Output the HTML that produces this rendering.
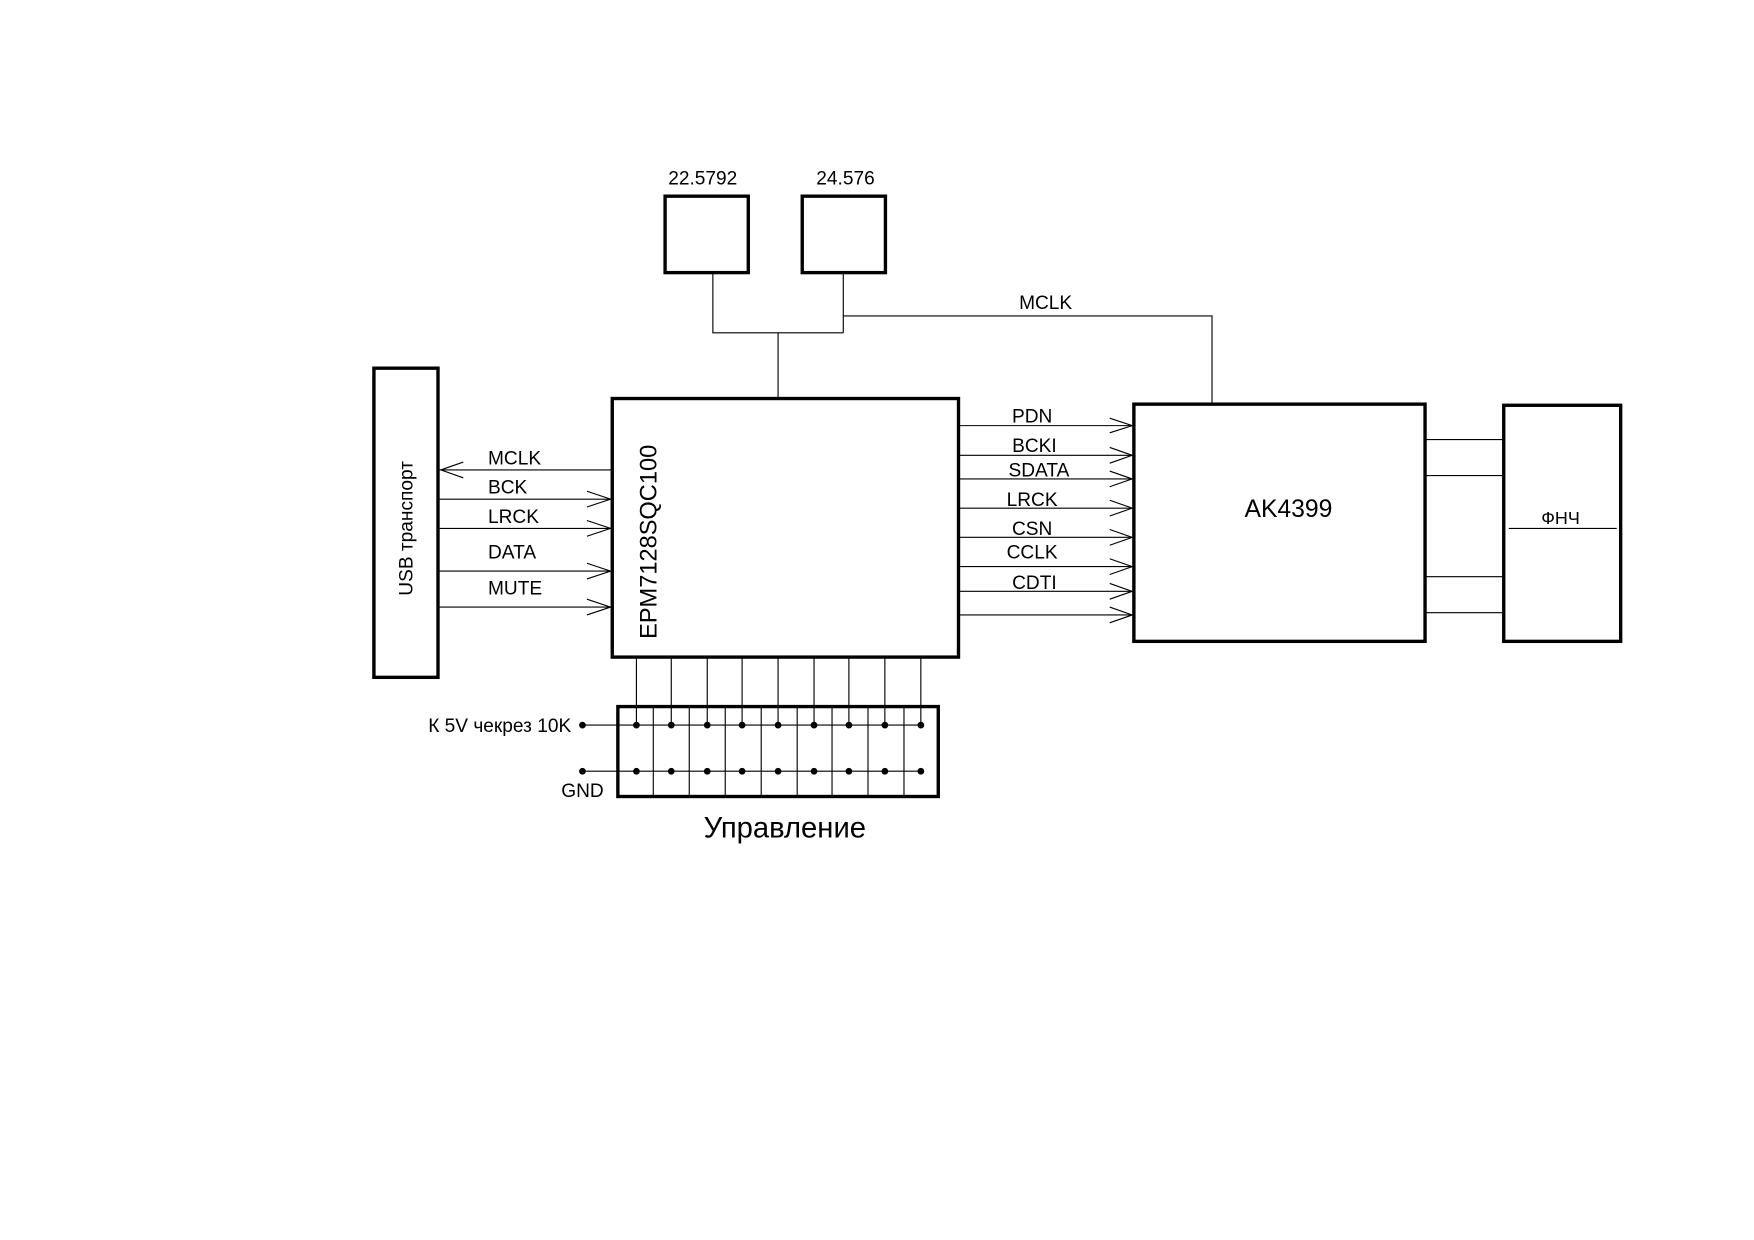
<!DOCTYPE html>
<html><head><meta charset="utf-8"><style>html,body{margin:0;padding:0;background:#fff}svg{display:block}</style></head>
<body>
<svg width="1754" height="1240" viewBox="0 0 1560 1103" xmlns="http://www.w3.org/2000/svg" font-family="'Liberation Sans', sans-serif" font-size="17">
<rect width="1560" height="1103" fill="#fff"/>
<g fill="none" stroke="#000">
<!-- crystals -->
<rect x="591.5" y="174.5" width="74" height="68" stroke-width="3"/>
<rect x="713.5" y="174.5" width="74" height="68" stroke-width="3"/>
<g stroke-width="1">
<path d="M634 243V296H750M750 243V296M692 296V354M750 281H1078V359"/>
<!-- left signals -->
<path d="M390 418H544M390 444H544M390 470H544M390 508H544M390 540H544"/>
<path d="M412 411L392 418L412 425"/>
<path d="M522 437L543 444L522 451M522 463L543 470L522 477M522 501L543 508L522 515M522 533L543 540L522 547"/>
<!-- right signals -->
<path d="M853 378.6H1008M853 405H1008M853 426H1008M853 452H1008M853 478H1008M853 504H1008M853 526H1008M853 547H1008"/>
<path d="M987 372L1007 378.6L987 385M987 398L1007 405L987 412M987 419L1007 426L987 433M987 445L1007 452L987 459M987 471L1007 478L987 485M987 497L1007 504L987 511M987 519L1007 526L987 533M987 540L1007 547L987 554"/>
<!-- AK to filter -->
<path d="M1268 391H1337M1268 423H1337M1268 513H1337M1268 545H1337M1342 470H1438"/>
<!-- pins -->
<path d="M566 585V645M597 585V645M629 585V645M660 585V645M692 585V645M724 585V645M755 585V645M787 585V645M819 585V645"/>
<path d="M581 628V709M613 628V709M645 628V709M677 628V709M709 628V709M740 628V709M772 628V709M804 628V709"/>
<path d="M518 645H819M518 686H819"/>
</g>
<rect x="332.5" y="327.5" width="57" height="275" stroke-width="3"/>
<rect x="544.5" y="354.5" width="308" height="230" stroke-width="3"/>
<rect x="1008.5" y="359.5" width="259" height="211" stroke-width="3"/>
<rect x="1337.5" y="360.5" width="104" height="210" stroke-width="3"/>
<rect x="549.5" y="628.5" width="285" height="80" stroke-width="3"/>
</g>
<g fill="#000">
<circle cx="518" cy="645" r="3"/><circle cx="518" cy="686" r="3"/>
<g id="d1">
<circle cx="566" cy="645" r="3"/><circle cx="597" cy="645" r="3"/><circle cx="629" cy="645" r="3"/><circle cx="660" cy="645" r="3"/><circle cx="692" cy="645" r="3"/><circle cx="724" cy="645" r="3"/><circle cx="755" cy="645" r="3"/><circle cx="787" cy="645" r="3"/><circle cx="819" cy="645" r="3"/>
<circle cx="566" cy="686" r="3"/><circle cx="597" cy="686" r="3"/><circle cx="629" cy="686" r="3"/><circle cx="660" cy="686" r="3"/><circle cx="692" cy="686" r="3"/><circle cx="724" cy="686" r="3"/><circle cx="755" cy="686" r="3"/><circle cx="787" cy="686" r="3"/><circle cx="819" cy="686" r="3"/>
</g>
<text x="625" y="164" text-anchor="middle">22.5792</text>
<text x="752" y="164" text-anchor="middle">24.576</text>
<text x="930" y="275" text-anchor="middle">MCLK</text>
<text x="434" y="413">MCLK</text>
<text x="434" y="439">BCK</text>
<text x="434" y="465">LRCK</text>
<text x="434" y="497">DATA</text>
<text x="434" y="529">MUTE</text>
<text x="918" y="376" text-anchor="middle">PDN</text>
<text x="920" y="402" text-anchor="middle">BCKI</text>
<text x="924" y="424" text-anchor="middle">SDATA</text>
<text x="918" y="450" text-anchor="middle">LRCK</text>
<text x="918" y="476" text-anchor="middle">CSN</text>
<text x="918" y="497" text-anchor="middle">CCLK</text>
<text x="920" y="524" text-anchor="middle">CDTI</text>
<text x="1146" y="460" text-anchor="middle" font-size="22">AK4399</text>
<text x="1388" y="466" text-anchor="middle" font-size="16">ФНЧ</text>
<text transform="translate(367,470) rotate(-90)" text-anchor="middle" font-size="17">USB транспорт</text>
<text transform="translate(584,482) rotate(-90)" text-anchor="middle" font-size="21">EPM7128SQC100</text>
<text x="508" y="651" text-anchor="end">К 5V чекрез 10K</text>
<text x="518" y="709" text-anchor="middle">GND</text>
<text x="698" y="745" text-anchor="middle" font-size="26">Управление</text>
</g>
</svg>
</body></html>
